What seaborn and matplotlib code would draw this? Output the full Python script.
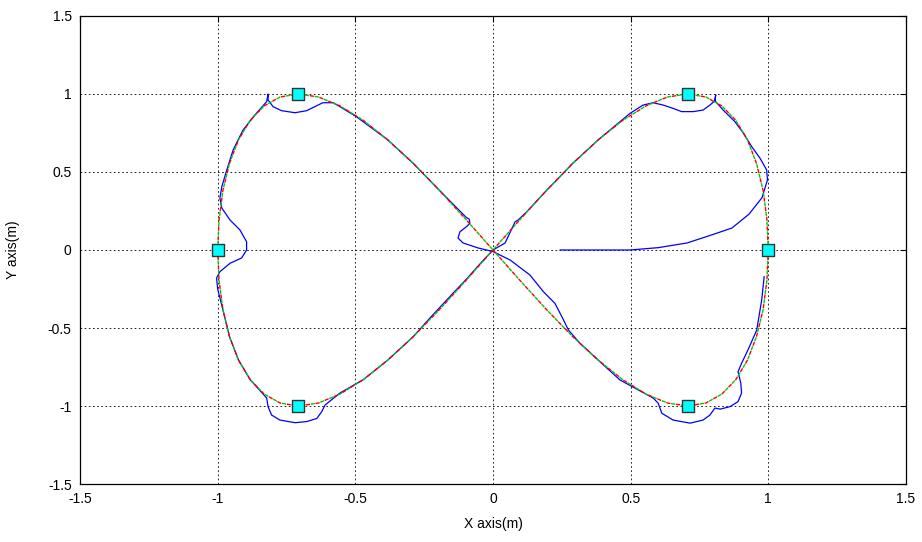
import matplotlib
matplotlib.use("Agg")
import matplotlib.pyplot as plt
import pandas as pd
import seaborn as sns

# Reference figure-eight path
x_ref = [1.000, 0.995, 0.981, 0.957, 0.924, 0.882, 0.831, 0.773, 0.707, 0.634, 0.556, 0.471,
         0.383, 0.290, 0.195, 0.098, 0.000, -0.098, -0.195, -0.290, -0.383, -0.471, -0.556,
         -0.634, -0.707, -0.773, -0.831, -0.882, -0.924, -0.957, -0.981, -0.995, -1.000,
         -0.995, -0.981, -0.957, -0.924, -0.882, -0.831, -0.773, -0.707, -0.634, -0.556,
         -0.471, -0.383, -0.290, -0.195, -0.098, 0.000, 0.098, 0.195, 0.290, 0.383, 0.471,
         0.556, 0.634, 0.707, 0.773, 0.831, 0.882, 0.924, 0.957, 0.981, 0.995, 1.000]
y_ref = [0.000, 0.195, 0.383, 0.556, 0.707, 0.831, 0.924, 0.981, 1.000, 0.981, 0.924, 0.831,
         0.707, 0.556, 0.383, 0.195, 0.000, -0.195, -0.383, -0.556, -0.707, -0.831, -0.924,
         -0.981, -1.000, -0.981, -0.924, -0.831, -0.707, -0.556, -0.383, -0.195, 0.000,
         0.195, 0.383, 0.556, 0.707, 0.831, 0.924, 0.981, 1.000, 0.981, 0.924, 0.831,
         0.707, 0.556, 0.383, 0.195, 0.000, -0.195, -0.383, -0.556, -0.707, -0.831, -0.924,
         -0.981, -1.000, -0.981, -0.924, -0.831, -0.707, -0.556, -0.383, -0.195, 0.000]

# Actual trajectory (blue solid line)
x_act = [0.243, 0.498, 0.600, 0.705, 0.800, 0.868, 0.930, 0.977, 0.997, 0.994, 0.970, 0.940,
         0.909, 0.879, 0.836, 0.806, 0.809, 0.806, 0.788, 0.763, 0.727, 0.685, 0.654, 0.618,
         0.582, 0.545, 0.498, 0.461, 0.383, 0.290, 0.232, 0.195, 0.120, 0.091, 0.080, 0.044,
         0.000, -0.040, -0.098, -0.145, -0.229, -0.290, -0.383, -0.471, -0.556, -0.610,
         -0.622, -0.640, -0.677, -0.719, -0.774, -0.804, -0.817, -0.822, -0.882, -0.924,
         -0.957, -0.981, -1.000, -1.004, -0.992, -0.955, -0.913, -0.895, -0.895, -0.919,
         -0.955, -0.985, -0.992, -0.985, -0.967, -0.944, -0.908, -0.865, -0.822, -0.817,
         -0.817, -0.799, -0.768, -0.719, -0.677, -0.647, -0.618, -0.581, -0.556, -0.495,
         -0.383, -0.290, -0.195, -0.098, -0.086, -0.084, -0.096, -0.120, -0.127, -0.109,
         -0.054, 0.000, 0.062, 0.134, 0.183, 0.225, 0.250, 0.274, 0.316, 0.383, 0.461,
         0.582, 0.600, 0.613, 0.654, 0.716, 0.763, 0.788, 0.806, 0.825, 0.861, 0.890,
         0.903, 0.900, 0.890, 0.903, 0.926, 0.958, 0.976, 0.985]
y_act = [0.000, 0.000, 0.015, 0.045, 0.100, 0.141, 0.230, 0.335, 0.449, 0.513, 0.588, 0.662,
         0.750, 0.822, 0.897, 0.957, 0.994, 0.957, 0.929, 0.897, 0.887, 0.887, 0.908, 0.929,
         0.944, 0.929, 0.876, 0.822, 0.707, 0.556, 0.449, 0.383, 0.240, 0.192, 0.180, 0.045,
         0.000, -0.075, -0.190, -0.277, -0.436, -0.556, -0.707, -0.831, -0.917, -0.994,
         -1.036, -1.080, -1.100, -1.107, -1.090, -1.058, -1.004, -0.949, -0.831, -0.707,
         -0.556, -0.383, -0.250, -0.180, -0.139, -0.085, -0.051, 0.000, 0.053, 0.128,
         0.192, 0.269, 0.333, 0.406, 0.513, 0.641, 0.769, 0.865, 0.951, 1.000,
         0.962, 0.919, 0.893, 0.880, 0.893, 0.919, 0.944, 0.944, 0.919, 0.853,
         0.707, 0.556, 0.383, 0.210, 0.197, 0.171, 0.150, 0.117, 0.077, 0.045,
         0.013, -0.010, -0.064, -0.160, -0.267, -0.342, -0.427, -0.513, -0.598, -0.707, -0.833,
         -0.949, -0.982, -1.046, -1.090, -1.110, -1.090, -1.058, -1.013, -1.020, -1.004, -0.972,
         -0.917, -0.853, -0.780, -0.726, -0.641, -0.513, -0.320, -0.170]

# Waypoints (cyan squares)
x_way = [1.0, 0.707, -0.707, -1.0, -0.707, 0.707]
y_way = [0.0, 1.0, 1.0, 0.0, -1.0, -1.0]

ticks = [-1.5, -1, -0.5, 0, 0.5, 1, 1.5]
tick_labels = ["-1.5", "-1", "-0.5", "0", "0.5", "1", "1.5"]

sns.set_theme(style="white")
plt.rcParams["font.family"] = ["Liberation Sans", "DejaVu Sans"]

fig = plt.figure(figsize=(9.22, 5.42), dpi=100)
ax = fig.add_axes([0.0868, 0.107, 0.8958, 0.8635])

ref = pd.DataFrame({"x": x_ref, "y": y_ref})
act = pd.DataFrame({"x": x_act, "y": y_act})
way = pd.DataFrame({"x": x_way, "y": y_way})

sns.lineplot(data=act, x="x", y="y", sort=False, estimator=None, color="#0000ff",
             linewidth=0.9, ax=ax, zorder=3)
sns.lineplot(data=ref, x="x", y="y", sort=False, estimator=None, color="#ff0000",
             linewidth=1.0, ax=ax, zorder=4, linestyle=(0, (3, 4)))
sns.lineplot(data=ref, x="x", y="y", sort=False, estimator=None, color="#00cc00",
             linewidth=1.0, ax=ax, zorder=5, linestyle=(3.5, (3, 4)))
sns.scatterplot(data=way, x="x", y="y", marker="s", s=85, color="#00ffff",
                edgecolor="#333333", linewidth=1.0, ax=ax, zorder=6)

ax.set_xlim(-1.5, 1.5)
ax.set_ylim(-1.5, 1.5)
ax.set_xticks(ticks)
ax.set_xticklabels(tick_labels)
ax.set_yticks(ticks)
ax.set_yticklabels(tick_labels)
ax.grid(True, color="black", linestyle=(0, (2, 3)), linewidth=0.6)
ax.set_axisbelow(True)
ax.tick_params(direction="in", length=4, width=0.8, top=True, right=True,
               labelsize=10, colors="black", pad=6)
for s in ax.spines.values():
    s.set_color("black")
    s.set_linewidth(0.9)
ax.set_xlabel("X axis(m)", fontsize=10, color="black", labelpad=8)
ax.set_ylabel("Y axis(m)", fontsize=10, color="black", labelpad=20)

fig.savefig("out.png", dpi=100, facecolor="white")
